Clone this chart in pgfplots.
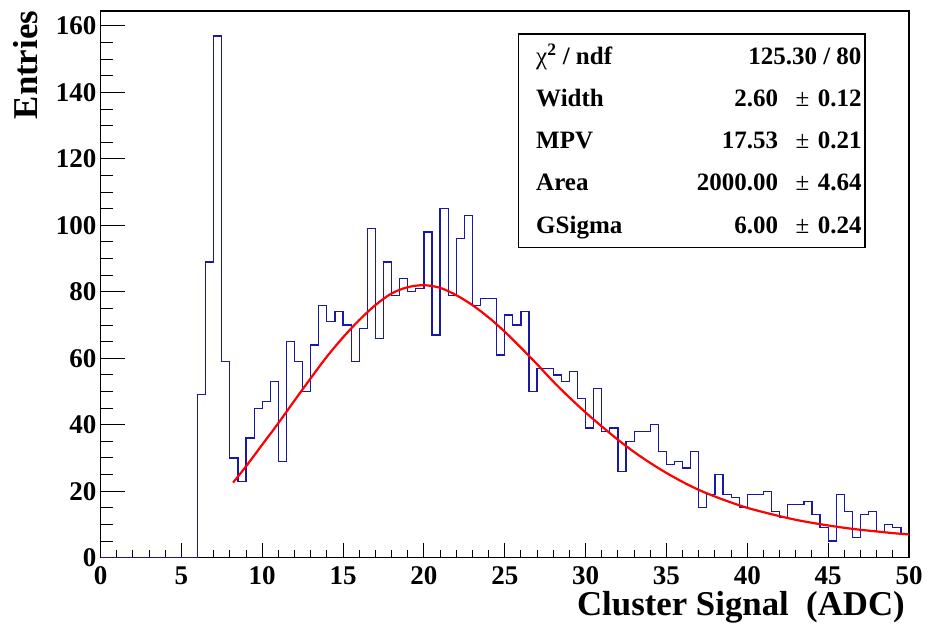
\documentclass[border=0pt]{standalone}
\usepackage{fontspec}
\setmainfont{Liberation Serif}
\usepackage{pgfplots}
\pgfplotsset{compat=1.18}
\definecolor{histblue}{RGB}{25,25,165}
\definecolor{fitred}{RGB}{255,0,0}
\newcommand{\tfont}{\fontsize{27bp}{27bp}\selectfont\bfseries}
\newcommand{\lfont}{\fontsize{34.8bp}{34.8bp}\selectfont\bfseries}
\newcommand{\sfont}{\fontsize{25bp}{25bp}\selectfont\bfseries}
\pgfplotsset{
  base/.style={
    at={(0,0)}, anchor=south west,
    scale only axis, width=808.5bp, height=546.7bp,
    xmin=0, xmax=50, ymin=0, ymax=164.5,
    axis line style={line width=1.3bp},
    tick align=inside,
    tick style={line width=1bp, black},
    ticklabel style={font=\tfont, inner sep=0pt},
    /pgf/number format/assume math mode=true,
    xticklabel style={yshift=-9bp},
    yticklabel style={xshift=-4bp},
  }
}
\begin{document}
\begin{tikzpicture}
\useasboundingbox (-100.5bp,-70.3bp) rectangle (828.5bp,557.7bp);
% frame only
\begin{axis}[base, xtick=\empty, ytick=\empty]
\end{axis}
% y ticks
\begin{axis}[base,
  ytick pos=left, xtick=\empty,
  ytick={0,20,...,160}, minor y tick num=3,
  major tick length=24bp, minor tick length=12bp,
  axis line style={draw=none},
]
\end{axis}
% data and x ticks
\begin{axis}[base,
  clip=false,
  axis line style={draw=none},
  xtick pos=bottom, ytick=\empty,
  xtick={0,5,...,50}, minor x tick num=4,
  major tick length=15bp, minor tick length=7.5bp,
]
\addplot[const plot, histblue, line width=1.2bp] coordinates {
(0,0) (6,49) (6.5,89) (7,157) (7.5,59) (8,30) (8.5,23) (9,36) (9.5,45) (10,47)
(10.5,53) (11,29) (11.5,65) (12,59) (12.5,50) (13,64) (13.5,76) (14,71) (14.5,74) (15,70)
(15.5,59) (16,69) (16.5,99) (17,66) (17.5,89) (18,79) (18.5,84) (19,80) (19.5,81) (20,98)
(20.5,67) (21,105) (21.5,79) (22,96) (22.5,103) (23,76) (23.5,78) (24,78) (24.5,61) (25,73)
(25.5,70) (26,74) (26.5,50) (27,57) (27.5,57) (28,55) (28.5,53) (29,56) (29.5,48) (30,39)
(30.5,51) (31,38) (31.5,39) (32,26) (32.5,35) (33,38) (33.5,38) (34,40) (34.5,32) (35,28)
(35.5,29) (36,27) (36.5,32) (37,15) (37.5,19) (38,25) (38.5,19) (39,18) (39.5,15) (40,19)
(40.5,19) (41,20) (41.5,14) (42,12) (42.5,16) (43,16) (43.5,17) (44,13) (44.5,9) (45,5)
(45.5,19) (46,14) (46.5,6) (47,13) (47.5,14) (48,8) (48.5,10) (49,9) (49.5,7) (50,7)
};
\addplot[smooth, fitred, line width=2.2bp] coordinates {
(8.2,22.6) (9,27.5) (10,34) (11,40.5) (12,47.3) (13,54) (14,60.5) (15,66.3) (16,71.5)
(17,76) (18,79.5) (19,81.4) (20,82) (21,81.2) (22,79) (23,76) (24,72.3) (25,68) (26,63.2)
(27,58.2) (28,53) (29,48.2) (30,43.7) (31,39.5) (32,35.5) (33,31.8) (34,28.5) (35,25.5)
(36,22.8) (37,20.4) (38,18.4) (39,16.6) (40,15) (41,13.7) (42,12.5) (43,11.4) (44,10.5)
(45,9.7) (46,9.0) (47,8.4) (48,7.9) (49,7.4) (50,7.0)
};
\end{axis}
% axis titles
\node[anchor=base east, font=\lfont, inner sep=0pt] at (804.5bp,-58bp) {Cluster Signal\ \ (ADC)};
\node[anchor=base east, rotate=90, font=\lfont, inner sep=0pt] at (-62.5bp,547bp) {Entries};
% stats box
\draw[line width=1.2bp, fill=white] (417.8bp,310bp) rectangle (764.5bp,523.7bp);
\begin{scope}[every node/.style={font=\sfont, inner sep=0pt}]
\node[anchor=base west] at (435.5bp,493.6bp) {{\mdseries χ}\textsuperscript{2} / ndf};
\node[anchor=base east] at (761.2bp,493.6bp) {125.30 / 80};
\node[anchor=base west] at (435.5bp,451.4bp) {Width};
\node[anchor=base east] at (677.8bp,451.4bp) {2.60};
\node[anchor=base] at (702bp,451.4bp) {\mdseries ±};
\node[anchor=base east] at (761.2bp,451.4bp) {0.12};
\node[anchor=base west] at (435.5bp,409.1bp) {MPV};
\node[anchor=base east] at (677.8bp,409.1bp) {17.53};
\node[anchor=base] at (702bp,409.1bp) {\mdseries ±};
\node[anchor=base east] at (761.2bp,409.1bp) {0.21};
\node[anchor=base west] at (435.5bp,366.8bp) {Area};
\node[anchor=base east] at (677.8bp,366.8bp) {2000.00};
\node[anchor=base] at (702bp,366.8bp) {\mdseries ±};
\node[anchor=base east] at (761.2bp,366.8bp) {4.64};
\node[anchor=base west] at (435.5bp,324.6bp) {GSigma};
\node[anchor=base east] at (677.8bp,324.6bp) {6.00};
\node[anchor=base] at (702bp,324.6bp) {\mdseries ±};
\node[anchor=base east] at (761.2bp,324.6bp) {0.24};
\end{scope}
\end{tikzpicture}
\end{document}
